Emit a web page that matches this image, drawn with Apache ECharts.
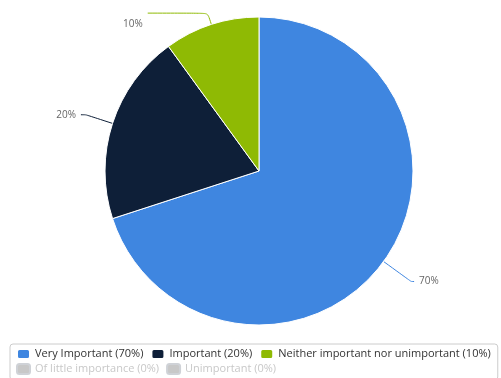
<!DOCTYPE html>
<html>
<head>
<meta charset="utf-8">
<script src="https://cdn.jsdelivr.net/npm/echarts@6/dist/echarts.min.js"></script>
<style>
html, body { margin: 0; padding: 0; background: #fff; }
#chart { width: 501px; height: 378px; }
</style>
</head>
<body>
<div id="chart"></div>
<script>
// Survey answers and their shares (percent)
const categories = [
  'Very Important',
  'Important',
  'Neither important nor unimportant',
  'Of little importance',
  'Unimportant'
];
const shares = [70, 20, 10, 0, 0];
const colors = ['#3f86e0', '#0e1f38', '#8fba04', '#c8c8c8', '#c8c8c8'];

// Connector styling per slice (drop = text pushed below the connector end)
const connectors = {
  'Very Important': { length: 34, length2: 3, drop: false },
  'Important': { length: 28, length2: 5, drop: false },
  'Neither important nor unimportant': { length: 12, length2: 60, drop: true }
};

const shareByName = {};
categories.forEach((c, i) => { shareByName[c] = shares[i]; });

const selected = {};
categories.forEach((c, i) => { selected[c] = shares[i] > 0; });

const chart = echarts.init(document.getElementById('chart'));
chart.setOption({
  animation: false,
  color: colors,
  legend: {
    left: 10,
    top: 344,
    width: 486,
    orient: 'horizontal',
    itemWidth: 13,
    itemHeight: 10,
    itemGap: 3,
    padding: [4, 3, 5, 6],
    borderColor: '#cccccc',
    borderWidth: 1,
    borderRadius: 3,
    icon: 'roundRect',
    selected: selected,
    inactiveColor: '#c8c8c8',
    textStyle: {
      fontFamily: 'Open Sans', fontSize: 11, color: '#333',
      lineHeight: 11, padding: [0, 4, 0, 0]
    },
    formatter: name => name + ' (' + shareByName[name] + '%)',
    data: categories
  },
  series: [{
    type: 'pie',
    center: [259, 171],
    radius: 154,
    startAngle: 90,
    clockwise: true,
    avoidLabelOverlap: false,
    itemStyle: { borderColor: '#ffffff', borderWidth: 1 },
    label: {
      formatter: p => {
        const conn = connectors[p.name];
        const txt = '{v|' + p.value + '%}';
        return conn && conn.drop ? '{g|}\n' + txt : txt;
      },
      rich: {
        v: { color: '#666', fontFamily: 'Open Sans', fontSize: 10, lineHeight: 12 },
        g: { height: 22, lineHeight: 22 }
      }
    },
    labelLine: {
      smooth: 0.2,
      lineStyle: { width: 1 }
    },
    data: categories.map((c, i) => {
      const item = { name: c, value: shares[i] };
      const conn = connectors[c];
      if (conn) {
        item.labelLine = { length: conn.length, length2: conn.length2 };
      }
      return item;
    })
  }]
});
</script>
</body>
</html>
